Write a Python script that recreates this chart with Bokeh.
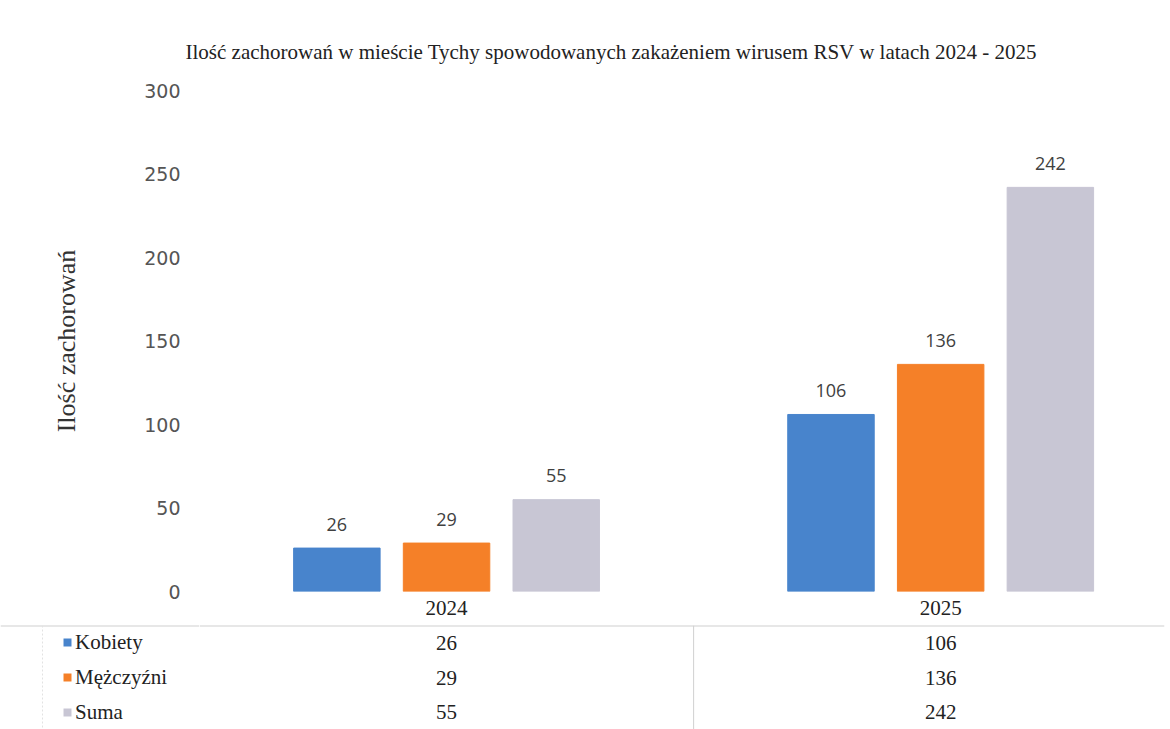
from bokeh.plotting import figure
from bokeh.models import Range1d, FixedTicker, Legend, LegendItem, Span, ColumnDataSource
from bokeh.layouts import column, row
from bokeh.transform import dodge
from bokeh.embed import file_html
from bokeh.resources import INLINE
from bokeh.core.properties import value

# ---- data ----
years = ["2024", "2025"]
series = ["Kobiety", "Mężczyźni", "Suma"]
kobiety = [26, 106]
mezczyzni = [29, 136]
suma = [55, 242]
colors = ["#4884CC", "#F58028", "#C8C6D4"]
y_ticks = [0, 50, 100, 150, 200, 250, 300]
title_text = "Ilość zachorowań w mieście Tychy spowodowanych zakażeniem wirusem RSV w latach 2024 - 2025"
y_label = "Ilość zachorowań"

values = [kobiety, mezczyzni, suma]
keys = ["kobiety", "mezczyzni", "suma"]
xi = list(range(len(years)))

# ---- layout constants ----
W = 1168
FRAME_L = 199
FRAME_R_BORDER = 4
X0, X1 = -0.5, 1.453
OFFS = [-0.222, 0.0, 0.222]
BAR_W = 0.175
TABLE_H = 104
BORDER = "#cfcfcf"

src = ColumnDataSource(dict(
    x=xi,
    **{k: v for k, v in zip(keys, values)},
    **{k + "_lbl": [str(a) for a in v] for k, v in zip(keys, values)},
))

p = figure(width=W, height=625, x_range=Range1d(X0, X1), y_range=Range1d(0, 300),
           output_backend="svg", toolbar_location=None,
           min_border_left=FRAME_L, min_border_right=FRAME_R_BORDER,
           min_border_top=90, min_border_bottom=34)

for k, off, c in zip(keys, OFFS, colors):
    p.vbar(x=dodge("x", off, range=p.x_range), top=k, width=BAR_W, source=src,
           fill_color=c, line_color=c)
    p.text(x=dodge("x", off, range=p.x_range), y=k, text=k + "_lbl", source=src,
           text_align="center", text_baseline="middle", y_offset=-24,
           text_font=value("Open Sans"), text_font_size="18px", text_color="#404040")

p.title.text = title_text
p.title.text_font = "Liberation Serif"
p.title.text_font_size = "21px"
p.title.text_font_style = "normal"
p.title.text_color = "#222222"
p.title.align = "left"
p.title.offset = -14
p.title.standoff = 54

p.xaxis.ticker = FixedTicker(ticks=xi)
p.xaxis.major_label_overrides = {i: y for i, y in zip(xi, years)}
p.xaxis.axis_line_color = None
p.xaxis.major_tick_line_color = None
p.xaxis.minor_tick_line_color = None
p.xaxis.major_label_standoff = 3
p.xaxis.major_label_text_font = "Liberation Serif"
p.xaxis.major_label_text_font_size = "21px"
p.xaxis.major_label_text_color = "#222222"

p.yaxis.ticker = FixedTicker(ticks=y_ticks)
p.yaxis.axis_line_color = None
p.yaxis.major_tick_line_color = None
p.yaxis.minor_tick_line_color = None
p.yaxis.major_label_standoff = 13
p.yaxis.major_label_text_font = "DejaVu Sans"
p.yaxis.major_label_text_font_size = "19px"
p.yaxis.major_label_text_color = "#555555"
p.yaxis.axis_label = y_label
p.yaxis.axis_label_text_font = "Liberation Serif"
p.yaxis.axis_label_text_font_size = "26px"
p.yaxis.axis_label_text_font_style = "normal"
p.yaxis.axis_label_text_color = "#333333"
p.yaxis.axis_label_standoff = 60

p.xgrid.visible = False
p.ygrid.visible = False
p.outline_line_color = None

# ---- data table: legend column + value columns ----
yr = Range1d(len(series) - 0.5, -0.5)

lg = figure(width=FRAME_L, height=TABLE_H, x_range=Range1d(0, FRAME_L), y_range=yr,
            output_backend="svg", toolbar_location=None,
            x_axis_location=None, y_axis_location=None,
            min_border_left=0, min_border_right=0, min_border_top=0, min_border_bottom=0)
lg.xgrid.visible = False
lg.ygrid.visible = False
lg.outline_line_color = None
lg.add_layout(Span(location=-0.5, dimension="width", line_color=BORDER, line_width=2))
lg.add_layout(Span(location=42, dimension="height", line_color="#e2e2e2", line_width=1,
                   line_dash="2 2"))

items = []
for name, c in zip(series, colors):
    r = lg.vbar(x=[0], top=[0], bottom=[0], width=0, fill_color=c, line_color=None)
    items.append(LegendItem(label=name, renderers=[r]))
legend = Legend(items=items, location=(62, 4), orientation="vertical",
                glyph_width=10, glyph_height=10, label_standoff=3,
                label_height=26, spacing=9, padding=0, margin=0,
                label_text_font="Liberation Serif", label_text_font_size="21px",
                label_text_color="#222222",
                border_line_color=None, background_fill_alpha=0)
lg.add_layout(legend)

t = figure(width=W - FRAME_L, height=TABLE_H, x_range=p.x_range, y_range=yr,
           output_backend="svg", toolbar_location=None,
           x_axis_location=None, y_axis_location=None,
           min_border_left=0, min_border_right=FRAME_R_BORDER,
           min_border_top=0, min_border_bottom=0)
t.xgrid.visible = False
t.ygrid.visible = False
t.outline_line_color = None

tx, ty, tt = [], [], []
for ri, vals in enumerate(values):
    for yi, v in enumerate(vals):
        tx.append(yi)
        ty.append(ri)
        tt.append(str(v))
t.text(x=tx, y=ty, text=tt, text_align="center", text_baseline="middle",
       text_font=value("Liberation Serif"), text_font_size="21px", text_color="#222222")

t.add_layout(Span(location=-0.5, dimension="width", line_color=BORDER, line_width=2))
t.add_layout(Span(location=(xi[0] + xi[1]) / 2, dimension="height",
                  line_color="#d0d0d0", line_width=1))

layout = column(p, row(lg, t, spacing=0), spacing=0)
open("out.html", "w").write(file_html(layout, INLINE))
